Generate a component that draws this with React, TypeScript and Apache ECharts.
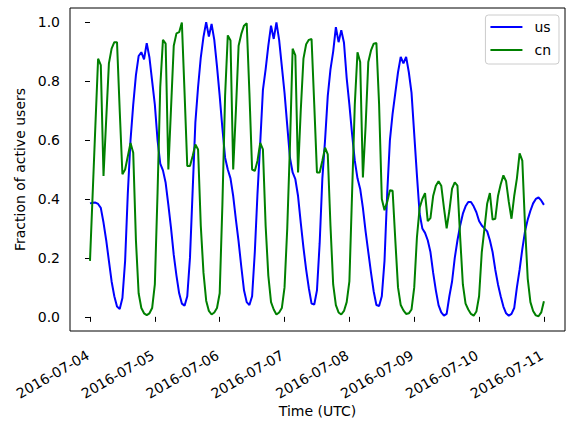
import React, { useEffect, useRef } from "react";
import * as echarts from "echarts";

const tickLabels = [
  "2016-07-04",
  "2016-07-05",
  "2016-07-06",
  "2016-07-07",
  "2016-07-08",
  "2016-07-09",
  "2016-07-10",
  "2016-07-11",
];
const tickHours = [0, 24, 48, 72, 96, 120, 144, 168];
const yTicks = [0, 0.2, 0.4, 0.6, 0.8, 1.0];

// hourly fraction of active users, starting 2016-07-04 00:00 UTC
const usDay1 = [0.385, 0.387, 0.388, 0.383, 0.37, 0.32, 0.26, 0.19, 0.12, 0.07, 0.035, 0.027, 0.064, 0.19, 0.42, 0.6, 0.72, 0.82, 0.885, 0.898, 0.874, 0.929, 0.88, 0.8];
const usDay2 = [0.72, 0.6, 0.52, 0.497, 0.455, 0.38, 0.3, 0.21, 0.14, 0.08, 0.045, 0.038, 0.07, 0.2, 0.43, 0.66, 0.78, 0.88, 0.95, 1.0, 0.951, 0.994, 0.94, 0.85];
const usDay3 = [0.75, 0.64, 0.54, 0.5, 0.47, 0.41, 0.33, 0.255, 0.17, 0.09, 0.05, 0.04, 0.07, 0.22, 0.42, 0.59, 0.77, 0.84, 0.92, 0.988, 0.943, 0.999, 0.94, 0.85];
const usDay4 = [0.76, 0.65, 0.54, 0.49, 0.467, 0.41, 0.32, 0.235, 0.16, 0.097, 0.045, 0.042, 0.09, 0.25, 0.47, 0.6, 0.75, 0.84, 0.9, 0.983, 0.932, 0.973, 0.93, 0.81];
const usDay5 = [0.72, 0.62, 0.53, 0.47, 0.434, 0.37, 0.29, 0.22, 0.15, 0.086, 0.04, 0.037, 0.07, 0.19, 0.42, 0.6, 0.69, 0.76, 0.83, 0.882, 0.86, 0.882, 0.83, 0.76];
const usDay6 = [0.62, 0.48, 0.35, 0.3, 0.285, 0.26, 0.22, 0.15, 0.09, 0.04, 0.015, 0.004, 0.01, 0.07, 0.12, 0.2, 0.26, 0.31, 0.35, 0.375, 0.39, 0.39, 0.375, 0.355];
const usDay7 = [0.325, 0.31, 0.3, 0.29, 0.26, 0.22, 0.16, 0.11, 0.07, 0.035, 0.012, 0.004, 0.01, 0.03, 0.1, 0.16, 0.23, 0.29, 0.33, 0.36, 0.385, 0.4, 0.405, 0.395];
const usLast = [0.38];

const cnDay1 = [0.19, 0.42, 0.65, 0.876, 0.854, 0.478, 0.67, 0.86, 0.91, 0.932, 0.932, 0.7, 0.484, 0.5, 0.545, 0.59, 0.557, 0.26, 0.08, 0.03, 0.012, 0.006, 0.012, 0.03];
const cnDay2 = [0.11, 0.42, 0.78, 0.94, 0.927, 0.5, 0.71, 0.92, 0.962, 0.966, 0.999, 0.76, 0.512, 0.512, 0.546, 0.585, 0.568, 0.31, 0.15, 0.055, 0.02, 0.008, 0.015, 0.03];
const cnDay3 = [0.08, 0.38, 0.75, 0.955, 0.938, 0.5, 0.7, 0.92, 0.96, 0.988, 0.996, 0.76, 0.5, 0.495, 0.53, 0.59, 0.568, 0.31, 0.14, 0.05, 0.025, 0.008, 0.015, 0.03];
const cnDay4 = [0.1, 0.3, 0.58, 0.91, 0.887, 0.49, 0.7, 0.876, 0.925, 0.94, 0.943, 0.72, 0.49, 0.49, 0.53, 0.574, 0.551, 0.31, 0.11, 0.04, 0.015, 0.008, 0.02, 0.05];
const cnDay5 = [0.12, 0.42, 0.72, 0.898, 0.865, 0.473, 0.646, 0.865, 0.904, 0.927, 0.929, 0.72, 0.4, 0.362, 0.39, 0.43, 0.428, 0.26, 0.1, 0.04, 0.022, 0.01, 0.012, 0.025];
const cnDay6 = [0.1, 0.27, 0.37, 0.4, 0.42, 0.325, 0.335, 0.41, 0.445, 0.46, 0.445, 0.37, 0.3, 0.36, 0.435, 0.456, 0.445, 0.27, 0.11, 0.045, 0.025, 0.01, 0.004, 0.018];
const cnDay7 = [0.07, 0.22, 0.3, 0.385, 0.42, 0.33, 0.333, 0.41, 0.45, 0.48, 0.46, 0.39, 0.333, 0.41, 0.47, 0.555, 0.53, 0.31, 0.13, 0.05, 0.02, 0.005, 0.002, 0.015];
const cnLast = [0.053];

const us = [...usDay1, ...usDay2, ...usDay3, ...usDay4, ...usDay5, ...usDay6, ...usDay7, ...usLast];
const cn = [...cnDay1, ...cnDay2, ...cnDay3, ...cnDay4, ...cnDay5, ...cnDay6, ...cnDay7, ...cnLast];

const FONT = "DejaVu Sans";
const Y_MIN = -0.048;
const Y_MAX = 1.048;

export default function App() {
  const ref = useRef<HTMLDivElement>(null);
  useEffect(() => {
    document.body.style.margin = "0";
    const chart = echarts.init(ref.current!, null, { renderer: "svg" });
    chart.setOption({
      animation: false,
      textStyle: { fontFamily: FONT, color: "#000" },
      grid: {
        left: 70,
        right: 1,
        top: 8,
        bottom: 90,
        show: true,
        borderColor: "#000",
        borderWidth: 1,
        backgroundColor: "transparent",
      },
      legend: {
        orient: "vertical",
        right: 7,
        top: 15,
        data: [
          { name: "us", icon: "rect" },
          { name: "cn", icon: "rect" },
        ],
        itemWidth: 32,
        itemHeight: 2,
        itemGap: 9,
        textStyle: { fontSize: 14, fontFamily: FONT, color: "#000", padding: [0, 0, 0, 7] },
        borderColor: "#cccccc",
        borderWidth: 1,
        borderRadius: 3,
        padding: [5, 8, 7, 5],
        backgroundColor: "rgba(255,255,255,0.8)",
      },
      xAxis: {
        type: "value",
        min: -7.4,
        max: 175.8,
        axisLine: { show: false },
        splitLine: { show: false },
        axisTick: {
          show: true,
          length: 5,
          lineStyle: { color: "#000" },
          customValues: tickHours,
        },
        axisLabel: { show: false },
        name: "Time (UTC)",
        nameLocation: "middle",
        nameGap: 73,
        nameTextStyle: { fontSize: 14, fontFamily: FONT, color: "#000" },
      },
      yAxis: {
        type: "value",
        min: Y_MIN,
        max: Y_MAX,
        axisLine: { show: false },
        splitLine: { show: false },
        axisTick: {
          show: true,
          length: 5,
          lineStyle: { color: "#000" },
          customValues: yTicks,
        },
        axisLabel: {
          customValues: yTicks,
          formatter: (v: number) => v.toFixed(1),
          margin: 10,
          fontSize: 14,
          fontFamily: FONT,
          color: "#000",
        },
        name: "Fraction of active users",
        nameLocation: "middle",
        nameGap: 43,
        nameRotate: 90,
        nameTextStyle: { fontSize: 14, fontFamily: FONT, color: "#000" },
      },
      series: [
        {
          name: "us",
          type: "line",
          data: us.map((v, i) => [i, v]),
          showSymbol: false,
          symbol: "none",
          lineStyle: { color: "#0000ff", width: 2 },
          itemStyle: { color: "#0000ff" },
        },
        {
          name: "cn",
          type: "line",
          data: cn.map((v, i) => [i, v]),
          showSymbol: false,
          symbol: "none",
          lineStyle: { color: "#008000", width: 2 },
          itemStyle: { color: "#008000" },
        },
        {
          name: "dateLabels",
          type: "custom",
          silent: true,
          clip: false,
          data: tickHours.map((h) => [h, Y_MIN]),
          renderItem: (params: any, api: any) => {
            const p = api.coord([api.value(0), Y_MIN]);
            return {
              type: "text",
              x: p[0] - 2,
              y: p[1] + 23,
              rotation: Math.PI / 6,
              style: {
                text: tickLabels[params.dataIndex],
                fontSize: 14,
                fontFamily: FONT,
                fill: "#000",
                align: "right",
                verticalAlign: "middle",
              },
            };
          },
        },
      ],
    });
    return () => chart.dispose();
  }, []);
  return (
    <div
      ref={ref}
      style={{ width: 566, height: 423, position: "absolute", left: 0, top: 0 }}
    />
  );
}
